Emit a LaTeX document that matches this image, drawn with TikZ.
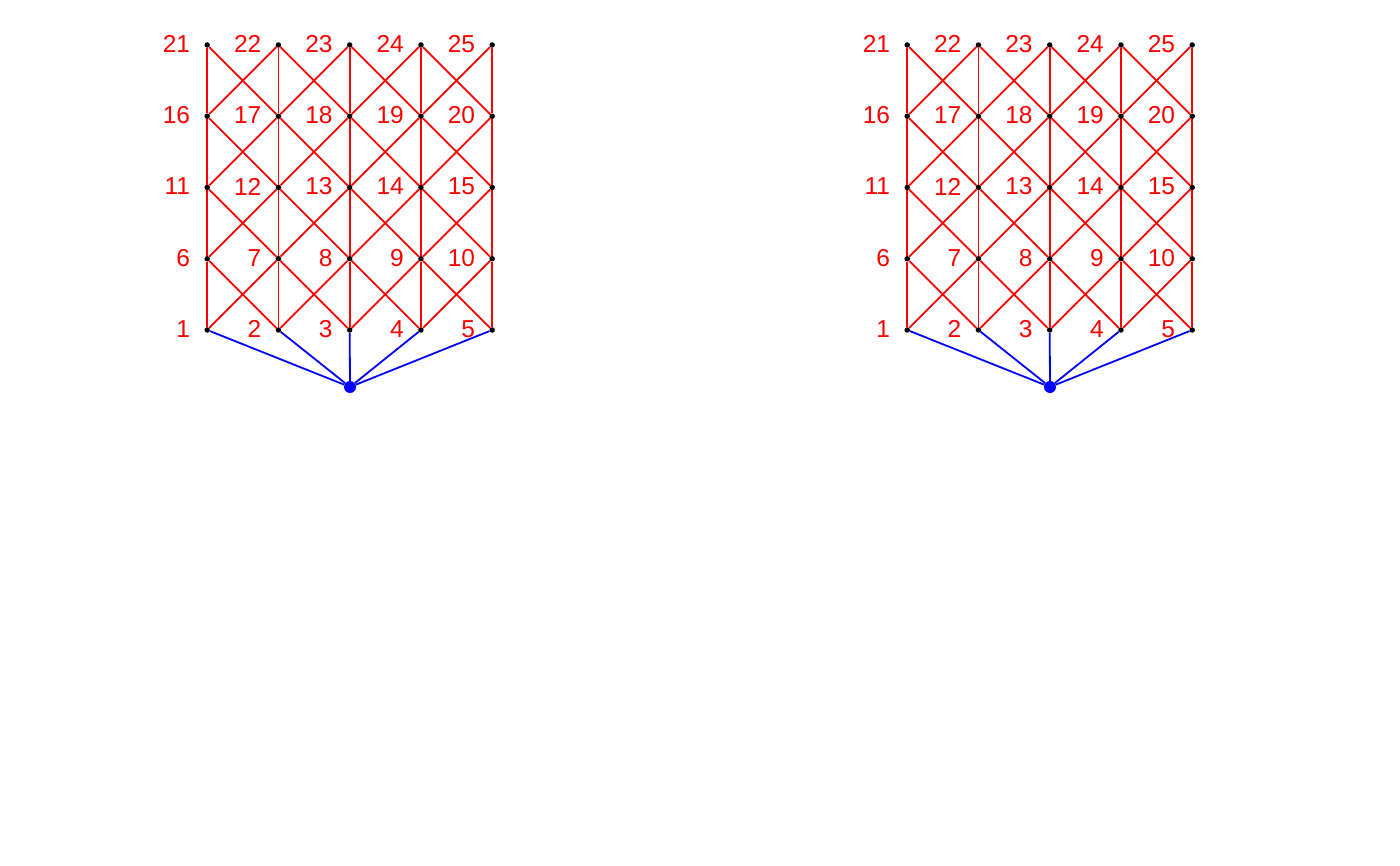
\documentclass[tikz,border=0pt]{standalone}
\usepackage{fontspec}
\setmainfont{Liberation Sans}
\usetikzlibrary{positioning}
\definecolor{gridred}{HTML}{FF0000}
\definecolor{rootblue}{HTML}{0000FF}

\begin{document}
\begin{tikzpicture}[
    x=1pt, y=-1pt,
    vertex/.style={circle, fill=black, inner sep=0pt, minimum size=5.5pt},
    rootvertex/.style={circle, fill=rootblue, inner sep=0pt, minimum size=12pt},
    numlabel/.style={text=gridred, font=\fontsize{24.5}{29}\selectfont, anchor=east, inner sep=0pt},
    gridedge/.style={draw=gridred, line width=1.8pt},
    rootedge/.style={draw=rootblue, line width=1.8pt}
]
\useasboundingbox (0,0) rectangle (1400,866);

\foreach \g/\dx in {a/0, b/700} {
  % grid vertices and their numbers
  \foreach \k in {1,...,25} {
    \pgfmathtruncatemacro{\col}{mod(\k-1,5)}
    \pgfmathtruncatemacro{\row}{div(\k-1,5)}
    \node[vertex] (\g\k) at ({207.2+\dx+71.25*\col}, {330-71.25*\row}) {};
    \node[numlabel] (\g l\k) at ([xshift=-17pt, yshift=1pt]\g\k.center) {\k};
  }
  % root below the bottom row
  \node[rootvertex] (\g0) at ({350+\dx}, 387) {};

  % verticals and crossing diagonals
  \foreach \k in {1,...,20} {
    \pgfmathtruncatemacro{\up}{\k+5}
    \draw[gridedge] (\g\k) -- (\g\up);
    \pgfmathtruncatemacro{\c}{mod(\k,5)}
    \ifnum\c>0
      \pgfmathtruncatemacro{\ur}{\k+6}
      \pgfmathtruncatemacro{\nx}{\k+1}
      \draw[gridedge] (\g\k) -- (\g\ur) (\g\nx) -- (\g\up);
    \fi
  }

  \foreach \k in {1,...,5}
    \draw[rootedge] (\g0) -- (\g\k);
}

\end{tikzpicture}
\end{document}
